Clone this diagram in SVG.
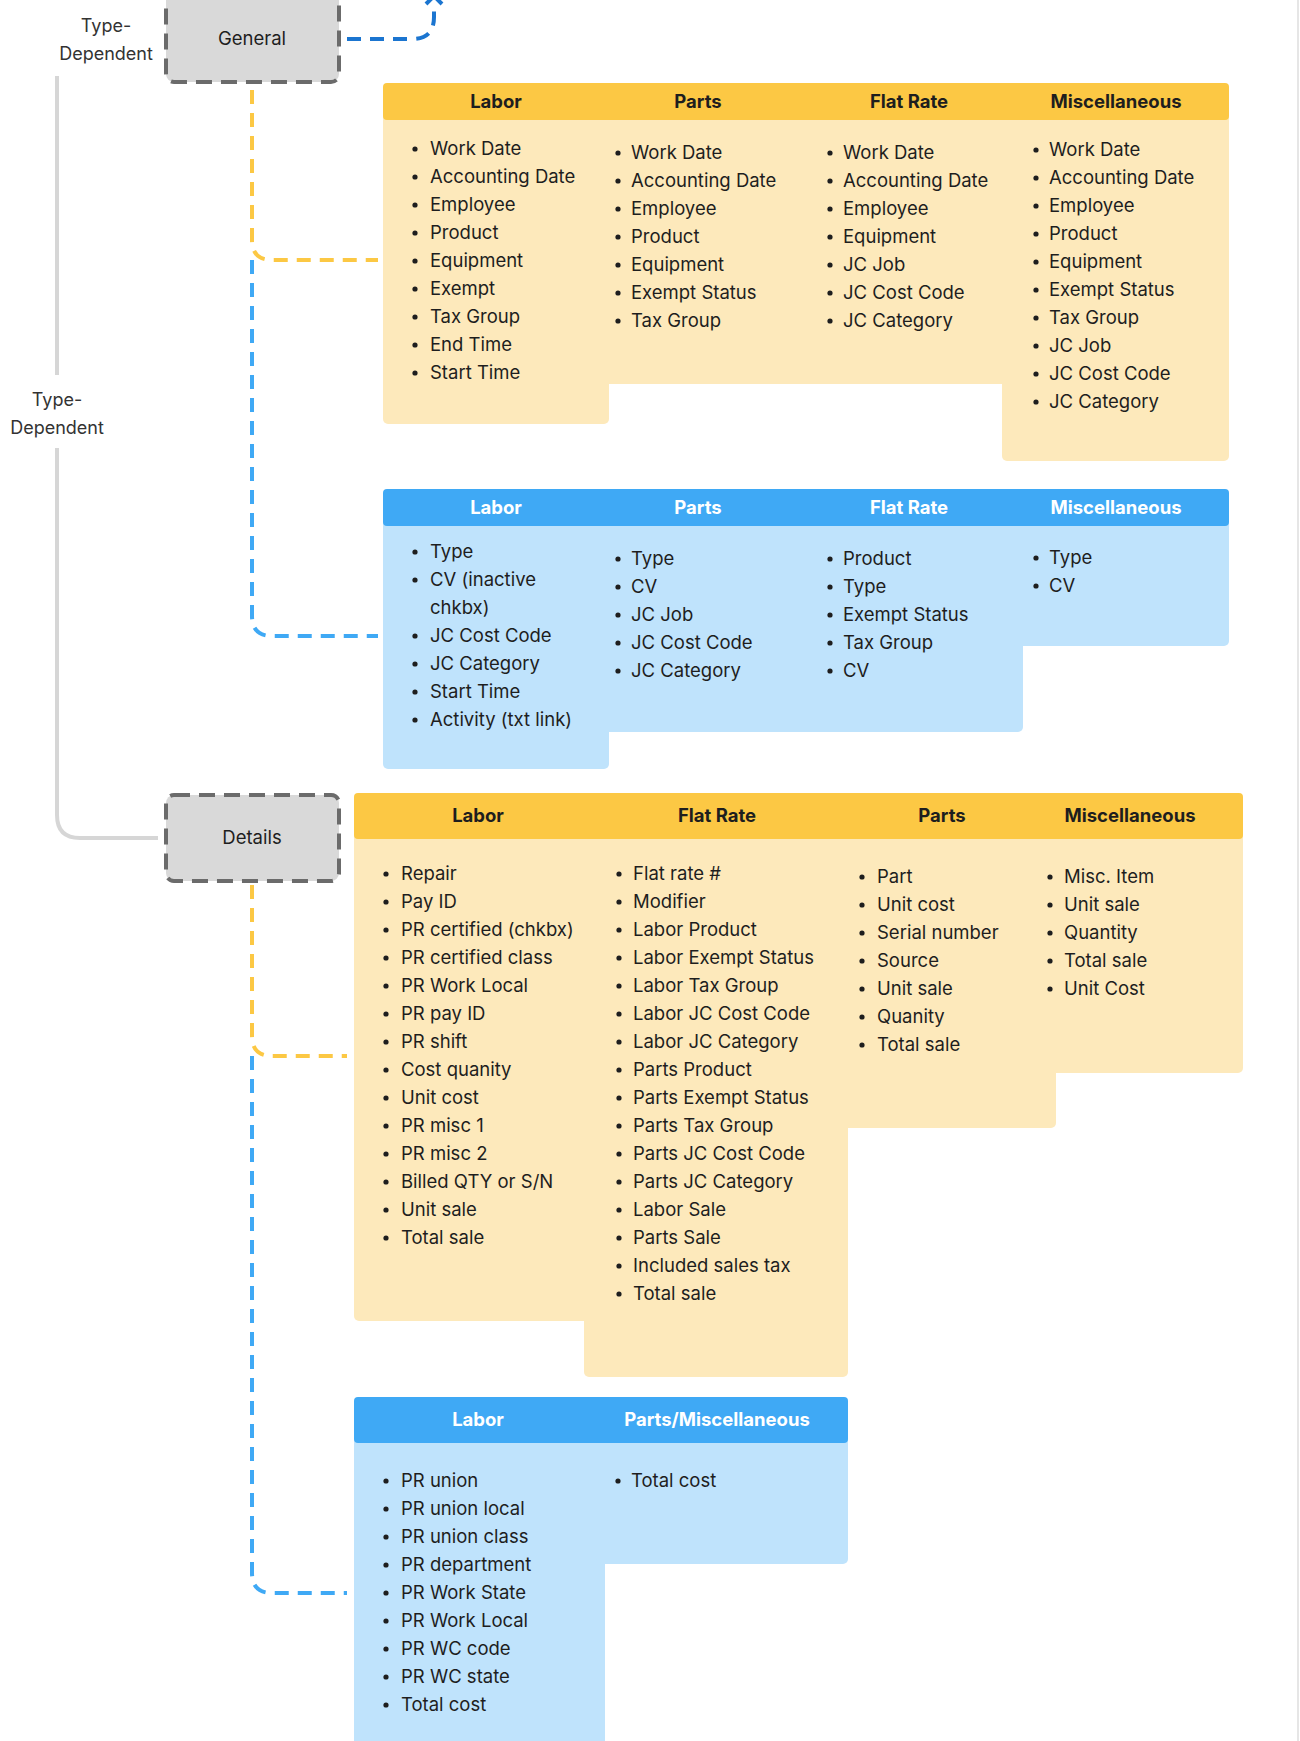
<svg xmlns="http://www.w3.org/2000/svg" width="1300" height="1741" viewBox="0 0 1300 1741">
<style>
text{font-family:Inter,"Noto Sans","Liberation Sans",sans-serif;font-size:18.5px;fill:#1e1e1e}
.h{font-weight:700;text-anchor:middle}
.hw{font-weight:700;text-anchor:middle;fill:#ffffff}
.lbl{text-anchor:middle;font-size:18px;fill:#333}
.yh{fill:#fcc844}.yb{fill:#fde9bb}.bh{fill:#3fa9f5}.bb{fill:#bfe3fc}
.node{fill:#d9d9d9;stroke:#6b6b6b;stroke-width:4;stroke-dasharray:16 9}
.dy{fill:none;stroke:#fcc844;stroke-width:4;stroke-dasharray:14 9}
.db{fill:none;stroke:#3fa9f5;stroke-width:4;stroke-dasharray:14 9}
.dk{fill:none;stroke:#1b75d0;stroke-width:4;stroke-dasharray:14 9}
.g{fill:none;stroke:#d6d6d6;stroke-width:4}
</style>
<rect width="1300" height="1741" fill="#fff"/>
<line x1="1298" y1="0" x2="1298" y2="1741" stroke="#e6e6e6" stroke-width="2"/>
<g id="connectors">
<path class="g" d="M57 76 V375"/>
<path class="g" d="M57 448 V815 Q57 838 80 838 H158"/>
<path class="dk" d="M347 39 H412 Q434 39 434 17 V6"/>
<path d="M426 4 L434 -4 L442 4" fill="none" stroke="#1b75d0" stroke-width="4"/>
<path class="dy" d="M252 90 V240 Q252 260 272 260 H378"/>
<path class="db" d="M252 260 V616 Q252 636 272 636 H378"/>
<path class="dy" d="M252 885 V1036 Q252 1056 272 1056 H347"/>
<path class="db" d="M252 1056 V1573 Q252 1593 272 1593 H347"/>
</g>
<g id="labels">
<text class="lbl" x="106" y="32">Type-</text>
<text class="lbl" x="106" y="60">Dependent</text>
<text class="lbl" x="57" y="406">Type-</text>
<text class="lbl" x="57" y="434">Dependent</text>
</g>
<g id="general"><rect class="node" x="166" y="-8" width="173" height="90" rx="8"/><text x="252" y="45" style="text-anchor:middle">General</text></g>
<g id="details"><rect class="node" x="166" y="795" width="173" height="86" rx="8"/><text x="252" y="844" style="text-anchor:middle">Details</text></g>

<g id="general-type-dependent">
<rect class="yb" x="383" y="110" width="226" height="314" rx="5"/>
<rect class="yb" x="600" y="110" width="410" height="274" rx="5"/>
<rect class="yb" x="1002" y="110" width="227" height="351" rx="5"/>
<rect class="yh" x="383" y="83" width="846" height="37" rx="4"/>
<text class="h" x="496" y="108">Labor</text><text class="h" x="698" y="108">Parts</text><text class="h" x="909" y="108">Flat Rate</text><text class="h" x="1116" y="108">Miscellaneous</text>
<g fill="#1e1e1e">
<circle cx="415" cy="149" r="2.6"/><circle cx="415" cy="177" r="2.6"/><circle cx="415" cy="205" r="2.6"/><circle cx="415" cy="233" r="2.6"/><circle cx="415" cy="261" r="2.6"/><circle cx="415" cy="289" r="2.6"/><circle cx="415" cy="317" r="2.6"/><circle cx="415" cy="345" r="2.6"/><circle cx="415" cy="373" r="2.6"/>
<circle cx="618" cy="153" r="2.6"/><circle cx="618" cy="181" r="2.6"/><circle cx="618" cy="209" r="2.6"/><circle cx="618" cy="237" r="2.6"/><circle cx="618" cy="265" r="2.6"/><circle cx="618" cy="293" r="2.6"/><circle cx="618" cy="321" r="2.6"/>
<circle cx="830" cy="153" r="2.6"/><circle cx="830" cy="181" r="2.6"/><circle cx="830" cy="209" r="2.6"/><circle cx="830" cy="237" r="2.6"/><circle cx="830" cy="265" r="2.6"/><circle cx="830" cy="293" r="2.6"/><circle cx="830" cy="321" r="2.6"/>
<circle cx="1036" cy="150" r="2.6"/><circle cx="1036" cy="178" r="2.6"/><circle cx="1036" cy="206" r="2.6"/><circle cx="1036" cy="234" r="2.6"/><circle cx="1036" cy="262" r="2.6"/><circle cx="1036" cy="290" r="2.6"/><circle cx="1036" cy="318" r="2.6"/><circle cx="1036" cy="346" r="2.6"/><circle cx="1036" cy="374" r="2.6"/><circle cx="1036" cy="402" r="2.6"/>
</g>
<text x="430" y="155">Work Date</text><text x="430" y="183">Accounting Date</text><text x="430" y="211">Employee</text><text x="430" y="239">Product</text><text x="430" y="267">Equipment</text><text x="430" y="295">Exempt</text><text x="430" y="323">Tax Group</text><text x="430" y="351">End Time</text><text x="430" y="379">Start Time</text>
<text x="631" y="159">Work Date</text><text x="631" y="187">Accounting Date</text><text x="631" y="215">Employee</text><text x="631" y="243">Product</text><text x="631" y="271">Equipment</text><text x="631" y="299">Exempt Status</text><text x="631" y="327">Tax Group</text>
<text x="843" y="159">Work Date</text><text x="843" y="187">Accounting Date</text><text x="843" y="215">Employee</text><text x="843" y="243">Equipment</text><text x="843" y="271">JC Job</text><text x="843" y="299">JC Cost Code</text><text x="843" y="327">JC Category</text>
<text x="1049" y="156">Work Date</text><text x="1049" y="184">Accounting Date</text><text x="1049" y="212">Employee</text><text x="1049" y="240">Product</text><text x="1049" y="268">Equipment</text><text x="1049" y="296">Exempt Status</text><text x="1049" y="324">Tax Group</text><text x="1049" y="352">JC Job</text><text x="1049" y="380">JC Cost Code</text><text x="1049" y="408">JC Category</text>
</g>

<g id="general-blue">
<rect class="bb" x="383" y="516" width="226" height="253" rx="5"/>
<rect class="bb" x="600" y="516" width="423" height="216" rx="5"/>
<rect class="bb" x="1010" y="516" width="219" height="130" rx="5"/>
<rect class="bh" x="383" y="489" width="846" height="37" rx="4"/>
<text class="hw" x="496" y="514">Labor</text><text class="hw" x="698" y="514">Parts</text><text class="hw" x="909" y="514">Flat Rate</text><text class="hw" x="1116" y="514">Miscellaneous</text>
<g fill="#1e1e1e">
<circle cx="415" cy="552" r="2.6"/><circle cx="415" cy="580" r="2.6"/><circle cx="415" cy="636" r="2.6"/><circle cx="415" cy="664" r="2.6"/><circle cx="415" cy="692" r="2.6"/><circle cx="415" cy="720" r="2.6"/>
<circle cx="618" cy="559" r="2.6"/><circle cx="618" cy="587" r="2.6"/><circle cx="618" cy="615" r="2.6"/><circle cx="618" cy="643" r="2.6"/><circle cx="618" cy="671" r="2.6"/>
<circle cx="830" cy="559" r="2.6"/><circle cx="830" cy="587" r="2.6"/><circle cx="830" cy="615" r="2.6"/><circle cx="830" cy="643" r="2.6"/><circle cx="830" cy="671" r="2.6"/>
<circle cx="1036" cy="558" r="2.6"/><circle cx="1036" cy="586" r="2.6"/>
</g>
<text x="430" y="558">Type</text><text x="430" y="586">CV (inactive</text><text x="430" y="614">chkbx)</text><text x="430" y="642">JC Cost Code</text><text x="430" y="670">JC Category</text><text x="430" y="698">Start Time</text><text x="430" y="726">Activity (txt link)</text>
<text x="631" y="565">Type</text><text x="631" y="593">CV</text><text x="631" y="621">JC Job</text><text x="631" y="649">JC Cost Code</text><text x="631" y="677">JC Category</text>
<text x="843" y="565">Product</text><text x="843" y="593">Type</text><text x="843" y="621">Exempt Status</text><text x="843" y="649">Tax Group</text><text x="843" y="677">CV</text>
<text x="1049" y="564">Type</text><text x="1049" y="592">CV</text>
</g>

<g id="details-type-dependent">
<rect class="yb" x="354" y="830" width="240" height="491" rx="5"/>
<rect class="yb" x="584" y="830" width="264" height="547" rx="5"/>
<rect class="yb" x="840" y="830" width="216" height="298" rx="5"/>
<rect class="yb" x="1048" y="830" width="195" height="243" rx="5"/>
<rect class="yh" x="354" y="793" width="889" height="46" rx="4"/>
<text class="h" x="478" y="822">Labor</text><text class="h" x="717" y="822">Flat Rate</text><text class="h" x="942" y="822">Parts</text><text class="h" x="1130" y="822">Miscellaneous</text>
<g fill="#1e1e1e">
<circle cx="386" cy="874" r="2.6"/><circle cx="386" cy="902" r="2.6"/><circle cx="386" cy="930" r="2.6"/><circle cx="386" cy="958" r="2.6"/><circle cx="386" cy="986" r="2.6"/><circle cx="386" cy="1014" r="2.6"/><circle cx="386" cy="1042" r="2.6"/><circle cx="386" cy="1070" r="2.6"/><circle cx="386" cy="1098" r="2.6"/><circle cx="386" cy="1126" r="2.6"/><circle cx="386" cy="1154" r="2.6"/><circle cx="386" cy="1182" r="2.6"/><circle cx="386" cy="1210" r="2.6"/><circle cx="386" cy="1238" r="2.6"/>
<circle cx="619" cy="874" r="2.6"/><circle cx="619" cy="902" r="2.6"/><circle cx="619" cy="930" r="2.6"/><circle cx="619" cy="958" r="2.6"/><circle cx="619" cy="986" r="2.6"/><circle cx="619" cy="1014" r="2.6"/><circle cx="619" cy="1042" r="2.6"/><circle cx="619" cy="1070" r="2.6"/><circle cx="619" cy="1098" r="2.6"/><circle cx="619" cy="1126" r="2.6"/><circle cx="619" cy="1154" r="2.6"/><circle cx="619" cy="1182" r="2.6"/><circle cx="619" cy="1210" r="2.6"/><circle cx="619" cy="1238" r="2.6"/><circle cx="619" cy="1266" r="2.6"/><circle cx="619" cy="1294" r="2.6"/>
<circle cx="862" cy="877" r="2.6"/><circle cx="862" cy="905" r="2.6"/><circle cx="862" cy="933" r="2.6"/><circle cx="862" cy="961" r="2.6"/><circle cx="862" cy="989" r="2.6"/><circle cx="862" cy="1017" r="2.6"/><circle cx="862" cy="1045" r="2.6"/>
<circle cx="1050" cy="877" r="2.6"/><circle cx="1050" cy="905" r="2.6"/><circle cx="1050" cy="933" r="2.6"/><circle cx="1050" cy="961" r="2.6"/><circle cx="1050" cy="989" r="2.6"/>
</g>
<text x="401" y="880">Repair</text><text x="401" y="908">Pay ID</text><text x="401" y="936">PR certified (chkbx)</text><text x="401" y="964">PR certified class</text><text x="401" y="992">PR Work Local</text><text x="401" y="1020">PR pay ID</text><text x="401" y="1048">PR shift</text><text x="401" y="1076">Cost quanity</text><text x="401" y="1104">Unit cost</text><text x="401" y="1132">PR misc 1</text><text x="401" y="1160">PR misc 2</text><text x="401" y="1188">Billed QTY or S/N</text><text x="401" y="1216">Unit sale</text><text x="401" y="1244">Total sale</text>
<text x="633" y="880">Flat rate #</text><text x="633" y="908">Modifier</text><text x="633" y="936">Labor Product</text><text x="633" y="964">Labor Exempt Status</text><text x="633" y="992">Labor Tax Group</text><text x="633" y="1020">Labor JC Cost Code</text><text x="633" y="1048">Labor JC Category</text><text x="633" y="1076">Parts Product</text><text x="633" y="1104">Parts Exempt Status</text><text x="633" y="1132">Parts Tax Group</text><text x="633" y="1160">Parts JC Cost Code</text><text x="633" y="1188">Parts JC Category</text><text x="633" y="1216">Labor Sale</text><text x="633" y="1244">Parts Sale</text><text x="633" y="1272">Included sales tax</text><text x="633" y="1300">Total sale</text>
<text x="877" y="883">Part</text><text x="877" y="911">Unit cost</text><text x="877" y="939">Serial number</text><text x="877" y="967">Source</text><text x="877" y="995">Unit sale</text><text x="877" y="1023">Quanity</text><text x="877" y="1051">Total sale</text>
<text x="1064" y="883">Misc. Item</text><text x="1064" y="911">Unit sale</text><text x="1064" y="939">Quantity</text><text x="1064" y="967">Total sale</text><text x="1064" y="995">Unit Cost</text>
</g>

<g id="details-blue">
<rect class="bb" x="354" y="1430" width="251" height="330"/>
<rect class="bb" x="596" y="1430" width="252" height="134" rx="5"/>
<rect class="bh" x="354" y="1397" width="494" height="46" rx="4"/>
<text class="hw" x="478" y="1426">Labor</text><text class="hw" x="717" y="1426">Parts/Miscellaneous</text>
<g fill="#1e1e1e">
<circle cx="386" cy="1481" r="2.6"/><circle cx="386" cy="1509" r="2.6"/><circle cx="386" cy="1537" r="2.6"/><circle cx="386" cy="1565" r="2.6"/><circle cx="386" cy="1593" r="2.6"/><circle cx="386" cy="1621" r="2.6"/><circle cx="386" cy="1649" r="2.6"/><circle cx="386" cy="1677" r="2.6"/><circle cx="386" cy="1705" r="2.6"/>
<circle cx="618" cy="1481" r="2.6"/>
</g>
<text x="401" y="1487">PR union</text><text x="401" y="1515">PR union local</text><text x="401" y="1543">PR union class</text><text x="401" y="1571">PR department</text><text x="401" y="1599">PR Work State</text><text x="401" y="1627">PR Work Local</text><text x="401" y="1655">PR WC code</text><text x="401" y="1683">PR WC state</text><text x="401" y="1711">Total cost</text>
<text x="631" y="1487">Total cost</text>
</g>
</svg>
